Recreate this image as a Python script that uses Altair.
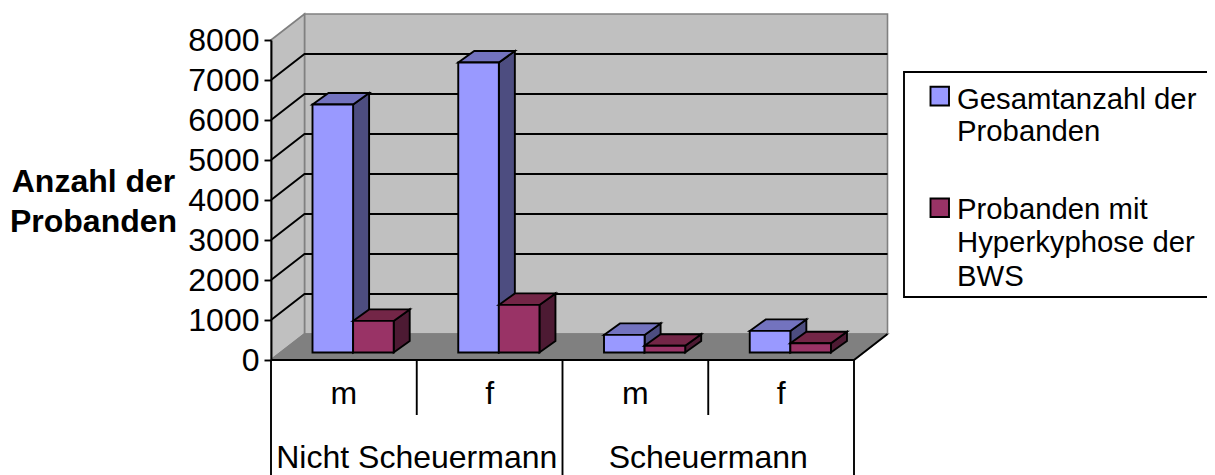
import altair as alt
import pandas as pd

# --- data ---
series = ["Gesamtanzahl der Probanden", "Probanden mit Hyperkyphose der BWS"]
sex_labels = ["m", "f", "m", "f"]
group_labels = ["Nicht Scheuermann", "Scheuermann"]
total_values = [6200, 7250, 440, 540]
hyper_values = [790, 1190, 170, 230]
y_ticks = [0, 1000, 2000, 3000, 4000, 5000, 6000, 7000, 8000]
legend_lines = ["Gesamtanzahl der", "Probanden", "Probanden mit", "Hyperkyphose der", "BWS"]
legend_baselines = [109, 141, 219, 252, 286]

# --- styles ---
FONT = "Liberation Sans"
FRONT = ["#9999FF", "#993366"]
TOP = ["#7373BF", "#732647"]
SIDE = ["#4D4D80", "#4D1A33"]
WALL = "#C0C0C0"
FLOOR = "#808080"
EDGE = "#808080"
LW = 1.9
AXIS_FS = 32
OX, OY = 271, 40      # page position of the plot origin

# --- geometry of the pseudo-3D projection, in scale units ---
W, H = 583, 320
UX = W / 4            # px per category
UY = H / 8000         # px per value unit
DX, DY = 33.5 / UX, 26 / UY            # chart depth
BDX, BDY = 16 / UX, 11.5 / UY          # bar depth
BASE = 7.5 / UY                        # bar base above the front floor edge
X0, BW = 41.5 / UX, 40.6 / UX          # first bar offset, bar width

xs = alt.Scale(domain=[0, 4], nice=False, zero=False)
ys = alt.Scale(domain=[0, 8000], nice=False, zero=False)

y_axis = alt.Axis(
    values=y_ticks, grid=False, zindex=1, format="d",
    domainColor="black", domainWidth=LW,
    tickColor="black", tickWidth=LW, tickSize=7,
    labelFont=FONT, labelFontSize=AXIS_FS, labelColor="black", labelPadding=5,
    title=["Anzahl der", "Probanden"], titleFont=FONT, titleFontSize=AXIS_FS,
    titleFontWeight="bold", titleColor="black", titleAngle=0,
    titleAlign="center", titleBaseline="alphabetic", titleLineHeight=40,
    titleX=-178, titleY=151,
)

X = alt.X("x:Q", scale=xs, axis=None)
Y = alt.Y("y:Q", scale=ys, axis=y_axis)


def faces(values, s):
    rows = []
    for c, v in enumerate(values):
        xl = c + X0 + s * BW
        xr = xl + BW
        top = BASE + v
        bot = BASE
        fid = f"side{s}{c}"
        rows += [
            dict(face=fid, fill=SIDE[s], x=xr, y=top, y2=bot),
            dict(face=fid, fill=SIDE[s], x=xr + BDX, y=top + BDY, y2=bot + BDY),
        ]
        fid = f"top{s}{c}"
        rows += [
            dict(face=fid, fill=TOP[s], x=xl, y=top, y2=top),
            dict(face=fid, fill=TOP[s], x=xl + BDX, y=top + BDY, y2=top),
            dict(face=fid, fill=TOP[s], x=xr, y=top + BDY, y2=top),
            dict(face=fid, fill=TOP[s], x=xr + BDX, y=top + BDY, y2=top + BDY),
        ]
    return pd.DataFrame(rows)


def fronts(values, s):
    return pd.DataFrame([
        dict(series=series[s], x=c + X0 + s * BW, x2=c + X0 + (s + 1) * BW,
             y=BASE, y2=BASE + v)
        for c, v in enumerate(values)
    ])


def poly_layer(df, **mark):
    return alt.Chart(df).mark_area(**mark).encode(
        x=X, y=Y, y2="y2:Q", detail="face:N",
        fill=alt.Fill("fill:N", scale=None),
    )


wall_df = pd.DataFrame([
    dict(face="back", fill=WALL, x=DX, y=8000 + DY, y2=DY),
    dict(face="back", fill=WALL, x=4 + DX, y=8000 + DY, y2=DY),
    dict(face="left", fill=WALL, x=0, y=8000, y2=0),
    dict(face="left", fill=WALL, x=DX, y=8000 + DY, y2=DY),
])
walls = poly_layer(wall_df, stroke=EDGE, strokeWidth=1.6)

floor_df = pd.DataFrame([
    dict(face="floor", fill=FLOOR, x=0, y=0, y2=0),
    dict(face="floor", fill=FLOOR, x=DX, y=DY, y2=0),
    dict(face="floor", fill=FLOOR, x=4, y=DY, y2=0),
    dict(face="floor", fill=FLOOR, x=4 + DX, y=DY, y2=DY),
])
floor = poly_layer(floor_df, stroke=EDGE, strokeWidth=1.6)

grid_df = pd.DataFrame([
    dict(v=v, x=px, y=py)
    for v in y_ticks[1:-1]
    for px, py in [(0, v), (DX, v + DY), (4 + DX, v + DY)]
])
grid = alt.Chart(grid_df).mark_line(color="black", strokeWidth=LW).encode(
    x=X, y=Y, detail="v:N"
)

edge_df = pd.DataFrame([dict(x=4, y=0), dict(x=4 + DX, y=DY)])
edge = alt.Chart(edge_df).mark_line(color="black", strokeWidth=LW).encode(x=X, y=Y)

color = alt.Color("series:N", scale=alt.Scale(domain=series, range=FRONT), legend=None)


def front_layer(df):
    return alt.Chart(df).mark_rect(stroke="black", strokeWidth=LW).encode(
        x=X, x2="x2:Q", y=Y, y2="y2:Q", color=color
    )


baseline_df = pd.DataFrame([dict(x=0), dict(x=4)])
baseline = alt.Chart(baseline_df).mark_line(color="black", strokeWidth=2).encode(
    x=X, y=alt.value(H)
)
sep_long = [0, 2, 4]
sep_short = [1, 3]
sep_layers = [
    alt.Chart(pd.DataFrame({"x": xsep})).mark_rule(color="black", strokeWidth=LW).encode(
        x=X, y=alt.value(H), y2=alt.value(H + length)
    )
    for xsep, length in [(sep_long, 115), (sep_short, 55)]
]

sex_df = pd.DataFrame([dict(x=i + 0.5, t=t) for i, t in enumerate(sex_labels)])
sex_text = alt.Chart(sex_df).mark_text(
    font=FONT, fontSize=AXIS_FS, color="black", baseline="alphabetic", align="center"
).encode(x=X, y=alt.value(404 - OY), text="t:N")
grp_df = pd.DataFrame([dict(x=1 + 2 * i, t=t) for i, t in enumerate(group_labels)])
grp_text = alt.Chart(grp_df).mark_text(
    font=FONT, fontSize=AXIS_FS, color="black", baseline="alphabetic", align="center"
).encode(x=X, y=alt.value(468 - OY), text="t:N")

box = alt.Chart(pd.DataFrame({"a": [0]})).mark_rect(
    fill="white", stroke="black", strokeWidth=LW
).encode(
    x=alt.value(904 - OX), x2=alt.value(1400 - OX),
    y=alt.value(72 - OY), y2=alt.value(297 - OY),
)
swatches = [
    alt.Chart(pd.DataFrame({"series": [series[i]]})).mark_rect(
        stroke="black", strokeWidth=LW
    ).encode(
        x=alt.value(930.5 - OX), x2=alt.value(949 - OX),
        y=alt.value(top - OY), y2=alt.value(bottom - OY),
        color=color,
    )
    for i, (top, bottom) in enumerate([(86.7, 105.5), (198.5, 217)])
]
leg_text = [
    alt.Chart(pd.DataFrame({"t": [t]})).mark_text(
        font=FONT, fontSize=29.3, color="black", baseline="alphabetic", align="left"
    ).encode(x=alt.value(957 - OX), y=alt.value(b - OY), text="t:N")
    for t, b in zip(legend_lines, legend_baselines)
]

layers = [
    walls, floor, grid, edge,
    poly_layer(faces(total_values, 0), stroke="black", strokeWidth=LW),
    front_layer(fronts(total_values, 0)),
    poly_layer(faces(hyper_values, 1), stroke="black", strokeWidth=LW),
    front_layer(fronts(hyper_values, 1)),
    baseline, *sep_layers, sex_text, grp_text, box, *swatches, *leg_text,
]

chart = alt.layer(*layers).properties(
    width=W, height=H,
    background="white",
    autosize=alt.AutoSizeParams(type="none"),
    padding={"left": OX - 8, "top": OY - 8, "right": 1199 - (OX - 8) - W,
             "bottom": 467 - (OY - 8) - H},
).configure_view(stroke=None)

chart.save("out.html", embed_options={"renderer": "svg", "actions": False})
